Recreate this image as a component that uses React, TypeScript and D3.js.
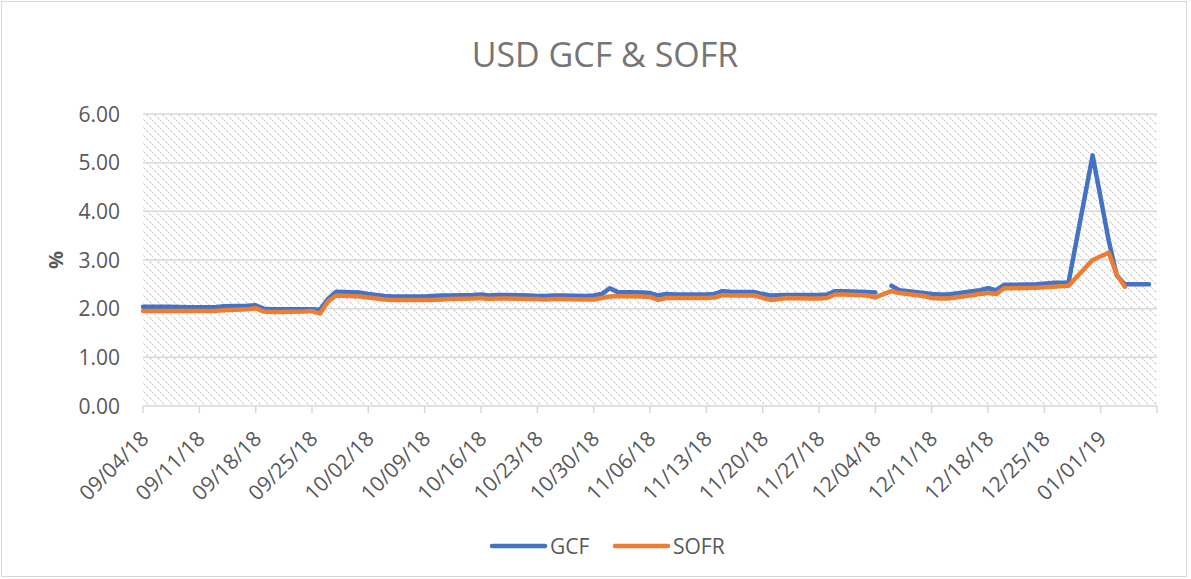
import React from "react";
import * as d3 from "d3";

const dates: string[] = [
  "09/04/18","09/05/18","09/06/18","09/07/18","09/10/18","09/11/18","09/12/18","09/13/18","09/14/18",
  "09/17/18","09/18/18","09/19/18","09/20/18","09/21/18","09/24/18","09/25/18","09/26/18","09/27/18","09/28/18",
  "10/01/18","10/02/18","10/03/18","10/04/18","10/05/18","10/09/18","10/10/18","10/11/18","10/12/18",
  "10/15/18","10/16/18","10/17/18","10/18/18","10/19/18","10/22/18","10/23/18","10/24/18","10/25/18","10/26/18",
  "10/29/18","10/30/18","10/31/18","11/01/18","11/02/18","11/05/18","11/06/18","11/07/18","11/08/18","11/09/18",
  "11/13/18","11/14/18","11/15/18","11/16/18","11/19/18","11/20/18","11/21/18","11/23/18",
  "11/26/18","11/27/18","11/28/18","11/29/18","11/30/18","12/03/18","12/04/18","12/05/18","12/06/18","12/07/18",
  "12/10/18","12/11/18","12/12/18","12/13/18","12/14/18","12/17/18","12/18/18","12/19/18","12/20/18","12/21/18",
  "12/24/18","12/26/18","12/27/18","12/28/18","12/31/18","01/02/19","01/03/19","01/04/19","01/07/19"
];

const gcf: (number | null)[] = [
  2.04,2.04,2.04,2.04,2.03,2.03,2.03,2.03,2.05,
  2.06,2.07,2.00,1.99,1.99,1.99,1.99,1.98,2.20,2.35,
  2.33,2.30,2.28,2.26,2.25,2.25,2.26,2.27,2.27,
  2.28,2.29,2.27,2.28,2.28,2.27,2.26,2.26,2.27,2.27,
  2.26,2.27,2.30,2.42,2.34,2.33,2.32,2.27,2.30,2.29,
  2.29,2.30,2.36,2.35,2.34,2.30,2.27,2.28,
  2.28,2.28,2.29,2.36,2.36,2.34,2.33,null,2.47,2.38,
  2.32,2.30,2.29,2.29,2.31,2.38,2.42,2.38,2.49,2.49,
  2.50,2.53,2.53,2.53,5.15,3.40,2.68,2.50,2.50
];

const sofr: (number | null)[] = [
  1.95,1.95,1.95,1.95,1.95,1.95,1.95,1.95,1.97,
  1.99,2.01,1.94,1.93,1.93,1.94,1.95,1.90,2.15,2.27,
  2.25,2.23,2.21,2.19,2.18,2.18,2.18,2.19,2.20,
  2.21,2.22,2.20,2.21,2.21,2.20,2.20,2.19,2.20,2.20,
  2.19,2.19,2.22,2.25,2.26,2.25,2.24,2.18,2.22,2.22,
  2.22,2.23,2.28,2.27,2.27,2.22,2.18,2.22,
  2.21,2.21,2.22,2.29,2.29,2.27,2.23,2.30,2.36,2.32,
  2.26,2.22,2.21,2.21,2.23,2.30,2.32,2.30,2.42,2.42,
  2.43,2.45,2.46,2.47,3.00,3.15,2.70,2.45,null
];

const xTickLabels: string[] = [
  "09/04/18","09/11/18","09/18/18","09/25/18","10/02/18","10/09/18","10/16/18","10/23/18","10/30/18",
  "11/06/18","11/13/18","11/20/18","11/27/18","12/04/18","12/11/18","12/18/18","12/25/18","01/01/19"
];
const xAxisEnd = "01/08/19";
const yTicks: number[] = [0, 1, 2, 3, 4, 5, 6];

const seriesNames = ["GCF", "SOFR"];
const seriesColors = ["#4472C4", "#ED7D31"];

const W = 1191, H = 579;
const FONT = "'Open Sans', 'Liberation Sans', sans-serif";

export default function App() {
  const parse = d3.utcParse("%m/%d/%y");
  const x = d3.scaleUtc()
    .domain([parse(xTickLabels[0])!, parse(xAxisEnd)!])
    .range([143, 1157]);
  const y = d3.scaleLinear().domain([0, 6]).range([406, 114]);

  const mk = (vals: (number | null)[]) =>
    dates.map((d, i) => ({ d: parse(d)!, v: vals[i] }));
  const line = d3.line<{ d: Date; v: number | null }>()
    .defined((p) => p.v != null)
    .x((p) => x(p.d))
    .y((p) => y(p.v as number));

  const tickDates = [...xTickLabels, xAxisEnd].map((s) => parse(s)!);
  const [x0, x1] = x.range();
  const [yb, yt] = y.range();

  return (
    <div style={{ position: "absolute", left: 0, top: 0 }}>
      <svg width={W} height={H} style={{ display: "block", background: "#fff" }}>
        <defs>
          <pattern id="hatch" width="8" height="8" patternUnits="userSpaceOnUse">
            <line x1="-1" y1="-1" x2="9" y2="9" stroke="#cfcfcf" strokeWidth="1.2" strokeDasharray="3 1.5" />
          </pattern>
        </defs>
        <rect x={1.5} y={1.5} width={W - 6} height={H - 4} fill="#fff" stroke="#d9d9d9" strokeWidth={1} />
        <text x={605} y={67} textAnchor="middle" fontFamily={FONT} fontSize={34} fill="#757575">
          USD GCF &amp; SOFR
        </text>
        <rect x={x0} y={yt} width={x1 - x0} height={yb - yt} fill="url(#hatch)" />
        {yTicks.filter((t) => t > 0).map((t) => (
          <line key={t} x1={x0} x2={x1} y1={y(t)} y2={y(t)} stroke="#d9d9d9" strokeWidth={1.5} />
        ))}
        <line x1={x0} x2={x1} y1={yb} y2={yb} stroke="#d9d9d9" strokeWidth={1.5} />
        {tickDates.map((d, i) => (
          <line key={i} x1={x(d)} x2={x(d)} y1={yb} y2={yb + 7} stroke="#d9d9d9" strokeWidth={1.5} />
        ))}
        {yTicks.map((t) => (
          <text key={t} x={120} y={y(t)} dy="0.36em" textAnchor="end" fontFamily={FONT} fontSize={21} fill="#595959">
            {t.toFixed(2)}
          </text>
        ))}
        <text transform={`translate(56,260) rotate(-90)`} textAnchor="middle" dy="0.36em" fontFamily={FONT} fontSize={20} fontWeight="bold" fill="#595959">
          %
        </text>
        {xTickLabels.map((s) => {
          const px = x(parse(s)!);
          return (
            <text key={s} transform={`translate(${px + 7},440) rotate(-45)`} textAnchor="end" fontFamily={FONT} fontSize={21} fill="#595959">
              {s}
            </text>
          );
        })}
        {[gcf, sofr].map((vals, i) => (
          <path key={i} d={line(mk(vals)) || ""} fill="none" stroke={seriesColors[i]} strokeWidth={4.5}
            strokeLinejoin="round" strokeLinecap="round" />
        ))}
        {seriesNames.map((n, i) => {
          const lx = 492 + i * 123;
          return (
            <g key={n}>
              <line x1={lx} x2={lx + 53} y1={546} y2={546} stroke={seriesColors[i]} strokeWidth={4.5} strokeLinecap="round" />
              <text x={lx + 58} y={546} dy="0.36em" fontFamily={FONT} fontSize={21} fill="#595959">{n}</text>
            </g>
          );
        })}
      </svg>
    </div>
  );
}
